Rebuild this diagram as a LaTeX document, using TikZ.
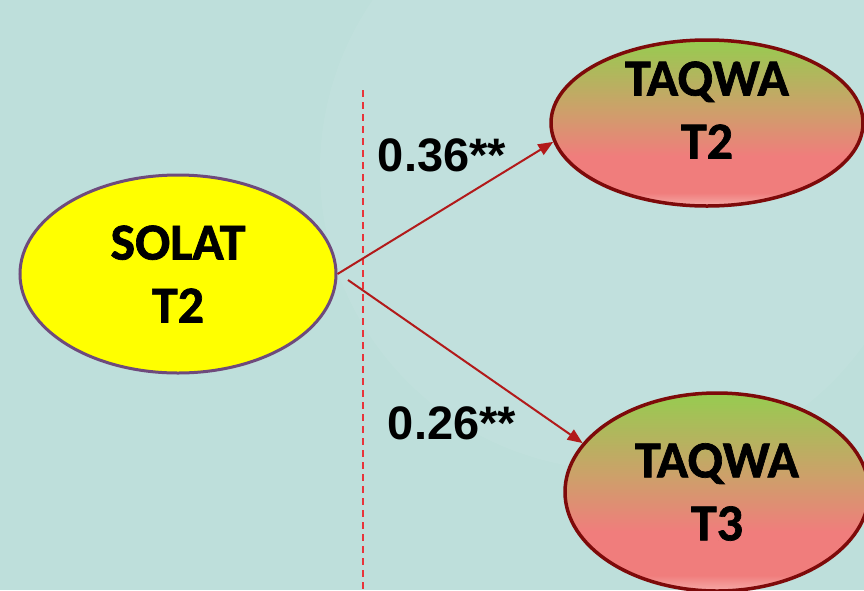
\documentclass[tikz,border=0pt]{standalone}
\usepackage{fontspec}
\newfontfamily\labelfont[BoldFeatures={FakeBold=1.3}]{Carlito}
\newfontfamily\numfont{Liberation Sans}
\usetikzlibrary{shapes.geometric,arrows.meta}

\definecolor{bgteal}{HTML}{BEDFDB}
\definecolor{solatfill}{HTML}{FFFF00}
\definecolor{solatline}{HTML}{6E4A7C}
\definecolor{taqwaline}{HTML}{7E0A0A}
\definecolor{arrowred}{HTML}{B21A1A}
\definecolor{dashred}{HTML}{E8343A}
\definecolor{shgreen}{HTML}{96CC50}
\definecolor{shtan}{HTML}{CDA06A}
\definecolor{shpink}{HTML}{F07D7C}
\definecolor{shlight}{HTML}{F6ABA8}

% green at the top, tan in the middle, pink towards the bottom
% (the shape's box spans 25bp to 75bp of the shading)
\pgfdeclareverticalshading{taqwashade}{100bp}{
  color(0bp)=(shlight);
  color(25bp)=(shlight);
  color(29bp)=(shpink);
  color(40bp)=(shpink);
  color(54bp)=(shtan);
  color(75bp)=(shgreen);
  color(100bp)=(shgreen)
}

\tikzset{
  construct/.style={ellipse, inner sep=0pt, align=center,
    font=\labelfont\bfseries\fontsize{52}{63}\selectfont},
  solatbox/.style={construct, draw=solatline, line width=3pt, fill=solatfill},
  taqwabox/.style={construct, draw=taqwaline, line width=3.5pt, shading=taqwashade},
  caption/.style={inner sep=0pt, align=center,
    font=\labelfont\bfseries\fontsize{52}{63}\selectfont},
  coef/.style={inner sep=0pt, font=\numfont\bfseries\fontsize{47}{50}\selectfont},
  path/.style={draw=arrowred, line width=2pt,
    -{Triangle[length=15pt,width=12pt]}},
  divider/.style={draw=dashred, line width=1.3pt, dash pattern=on 7pt off 5pt}
}

\begin{document}
\begin{tikzpicture}[x=1pt,y=-1pt]
  \useasboundingbox (0,0) rectangle (864,590);
  \fill[bgteal] (0,0) rectangle (864,590);
  \fill[white, opacity=0.06] (620,170) circle (300);

  % vertical divider
  \coordinate (divtop) at (363,90);
  \coordinate (divbot) at (363,590);
  \draw[divider] (divtop) -- (divbot);

  % constructs
  \node[solatbox, minimum width=316pt, minimum height=198pt] (solat) at (178,274) {SOLAT\\T2};
  \node[taqwabox, minimum width=312pt, minimum height=166pt] (t2) at (707,123) {};
  \node[caption] (t2lbl) at (707,110) {TAQWA\\T2};
  \node[taqwabox, minimum width=304pt, minimum height=198pt] (t3) at (717,492) {TAQWA\\T3};

  % structural paths
  \coordinate (lowstart) at (348,280);
  \draw[path] (solat.east) -- (t2.187);
  \draw[path] (lowstart) -- (t3.160);

  % path coefficients
  \node[coef] (c1) at (442,155) {0.36**};
  \node[coef] (c2) at (452,423) {0.26**};
\end{tikzpicture}
\end{document}
